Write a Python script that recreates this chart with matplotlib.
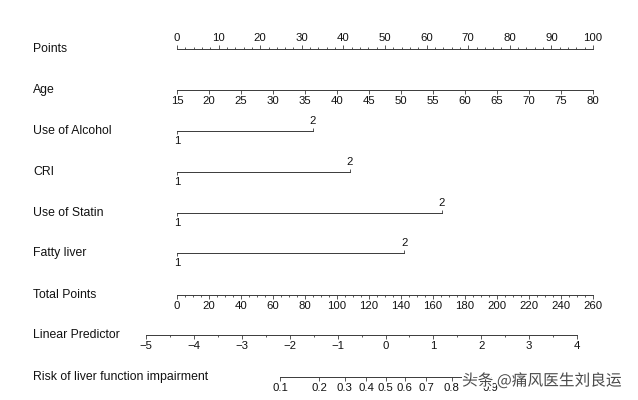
import numpy as np
import matplotlib
matplotlib.use("Agg")
import matplotlib.pyplot as plt
import matplotlib.patheffects as pe
from matplotlib.ticker import NullLocator, FixedLocator

plt.rcParams['font.family'] = ['Liberation Sans', 'DejaVu Sans']

# ---------------- data ----------------
row_names = ['Points', 'Age', 'Use of Alcohol', 'CRI', 'Use of Statin',
             'Fatty liver', 'Total Points', 'Linear Predictor',
             'Risk of liver function impairment']
points_max = 100
points_major = list(range(0, 101, 10))
points_minor = list(range(0, 101, 2))
age_min, age_max = 15, 80
age_ticks = list(range(15, 81, 5))
binary_vars = ['Use of Alcohol', 'CRI', 'Use of Statin', 'Fatty liver']
binary_points = [32.6, 41.6, 63.6, 54.6]
binary_levels = ['1', '2']
total_max = 260
total_major = list(range(0, 261, 20))
total_minor = list(range(0, 261, 5))
lp_at_total0 = -4.354
total_per_lp = 29.93
lp_major = [-5, -4, -3, -2, -1, 0, 1, 2, 3, 4]
lp_minor = list(np.arange(-5, 4.01, 0.5))
risk_ticks = [0.1, 0.2, 0.3, 0.4, 0.5, 0.6, 0.7, 0.8, 0.9]
watermark = '头条 @痛风医生刘良运'

# ---------------- layout ----------------
W, H = 638, 400
AX_L, AX_R = 110, 625          # axes horizontal extent in px
P0, P100 = 177, 593            # px of points 0 and 100
row_y = [49, 90, 131, 172, 213, 253, 295, 335, 377]
LINE_C = '#3a3a3a'
TXT_C = '#111111'
LAB_FS = 8.8
TICK_FS = 8.2

fig = plt.figure(figsize=(W / 100, H / 100), dpi=100)
fig.patch.set_facecolor('white')

pts_lo = (AX_L - P0) / (P100 - P0) * points_max
pts_hi = (AX_R - P0) / (P100 - P0) * points_max


def make_axes(y_px):
    ax = fig.add_axes([AX_L / W, 1 - y_px / H, (AX_R - AX_L) / W, 0.0005])
    for s in ax.spines.values():
        s.set_visible(False)
    ax.spines['bottom'].set_visible(True)
    ax.spines['bottom'].set_color(LINE_C)
    ax.spines['bottom'].set_linewidth(0.7)
    ax.set_yticks([])
    ax.patch.set_visible(False)
    ax.tick_params(axis='x', which='both', color=LINE_C, width=0.6,
                   labelsize=TICK_FS, labelcolor=TXT_C)
    ax.tick_params(axis='x', which='major', length=3)
    ax.tick_params(axis='x', which='minor', length=1.6)
    return ax


def top_ticks(ax):
    ax.tick_params(axis='x', which='both', bottom=False, labelbottom=False,
                   top=True, labeltop=True, pad=1.2)


def bottom_ticks(ax):
    ax.tick_params(axis='x', which='both', bottom=True, labelbottom=True,
                   top=False, labeltop=False, pad=1.2)


# row labels
for name, y in zip(row_names, row_y):
    fig.text(33 / W, 1 - (y + 3) / H, name, ha='left', va='baseline',
             fontsize=LAB_FS, color=TXT_C)

# Points
ax = make_axes(row_y[0])
ax.set_xlim(pts_lo, pts_hi)
ax.spines['bottom'].set_bounds(0, points_max)
ax.set_xticks(points_major, [str(v) for v in points_major])
ax.set_xticks(points_minor, minor=True)
top_ticks(ax)

# Age
ax = make_axes(row_y[1])
a_scale = (age_max - age_min) / points_max
ax.set_xlim(age_min + pts_lo * a_scale, age_min + pts_hi * a_scale)
ax.spines['bottom'].set_bounds(age_min, age_max)
ax.set_xticks(age_ticks, [str(v) for v in age_ticks])
ax.xaxis.set_minor_locator(NullLocator())
bottom_ticks(ax)

# binary variables
for i, (name, pts) in enumerate(zip(binary_vars, binary_points)):
    ax = make_axes(row_y[2 + i])
    ax.set_xlim(pts_lo, pts_hi)
    ax.spines['bottom'].set_bounds(0, pts)
    ax.set_xticks([0], [binary_levels[0]])
    ax.xaxis.set_minor_locator(NullLocator())
    ax.tick_params(axis='x', which='major', length=2.2, pad=1.5,
                   bottom=True, top=False, labelbottom=True, labeltop=False)
    sec = ax.secondary_xaxis('top')
    for s in sec.spines.values():
        s.set_visible(False)
    sec.set_xticks([pts], [binary_levels[1]])
    sec.xaxis.set_minor_locator(NullLocator())
    sec.tick_params(axis='x', which='major', length=2.2, pad=1.5, width=0.6,
                    color=LINE_C, labelsize=TICK_FS, labelcolor=TXT_C)

# Total Points
ax = make_axes(row_y[6])
t_scale = total_max / points_max
ax.set_xlim(pts_lo * t_scale, pts_hi * t_scale)
ax.spines['bottom'].set_bounds(0, total_max)
ax.set_xticks(total_major, [str(v) for v in total_major])
ax.set_xticks(total_minor, minor=True)
bottom_ticks(ax)

# Linear Predictor
lp_lo = lp_at_total0 + pts_lo * t_scale / total_per_lp
lp_hi = lp_at_total0 + pts_hi * t_scale / total_per_lp
ax = make_axes(row_y[7])
ax.set_xlim(lp_lo, lp_hi)
ax.spines['bottom'].set_bounds(min(lp_major), max(lp_major))
ax.set_xticks(lp_major, [('\u2212%d' % -v) if v < 0 else str(v) for v in lp_major])
ax.set_xticks(lp_minor, minor=True)
bottom_ticks(ax)

# Risk (logit scale)
expit = lambda v: 1.0 / (1.0 + np.exp(-v))
ax = make_axes(row_y[8])
ax.set_xscale('logit')
ax.set_xlim(expit(lp_lo), expit(lp_hi))
ax.spines['bottom'].set_bounds(min(risk_ticks), max(risk_ticks))
ax.xaxis.set_major_locator(FixedLocator(risk_ticks))
ax.set_xticklabels([('%.1f' % v) for v in risk_ticks])
ax.xaxis.set_minor_locator(NullLocator())
bottom_ticks(ax)

# watermark
fig.text(462 / W, 1 - 381 / H, watermark, ha='left', va='center',
         fontsize=11.3, color='#4a4a4a',
         family=['Noto Sans CJK SC', 'DejaVu Sans'],
         path_effects=[pe.withStroke(linewidth=2.5, foreground='white')])

fig.savefig('out.png', dpi=100, facecolor='white')
